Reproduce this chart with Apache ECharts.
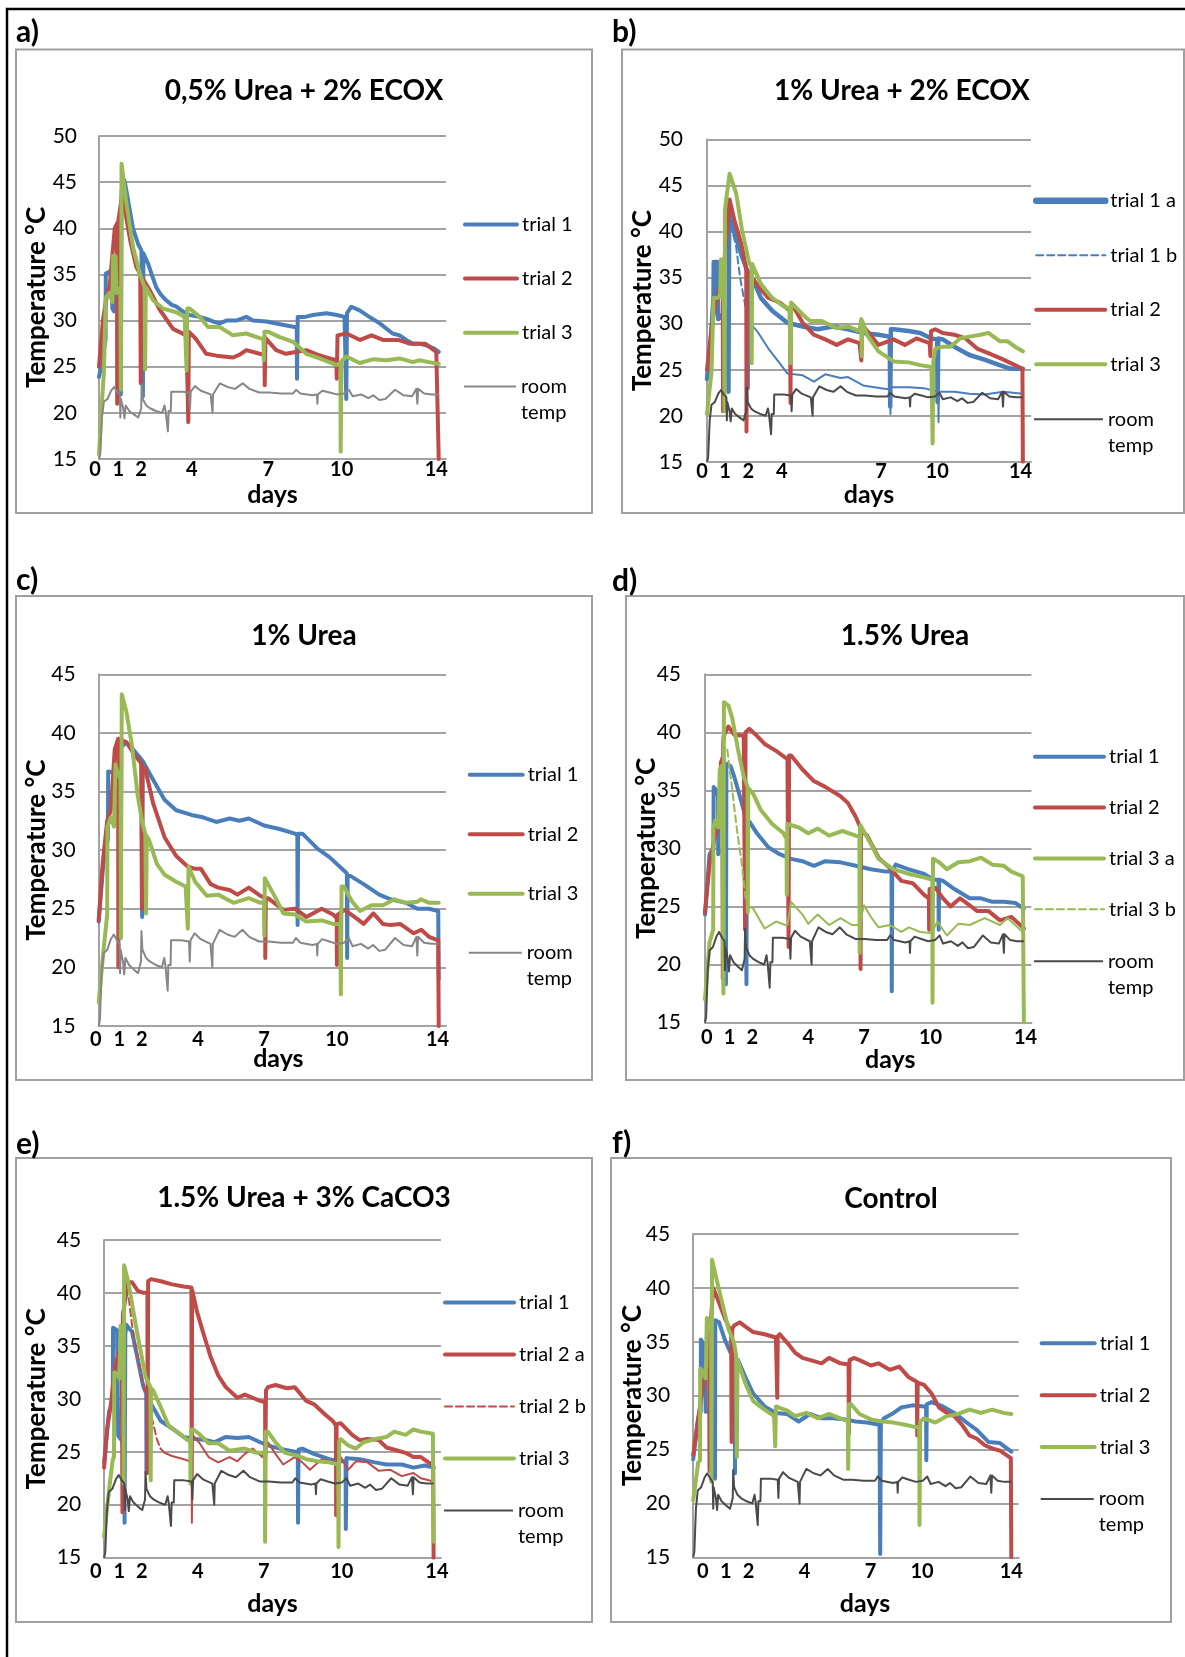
<!DOCTYPE html>
<html>
<head>
<meta charset="utf-8">
<title>Compost temperature trials</title>
<script src="https://cdn.jsdelivr.net/npm/echarts@6/dist/echarts.min.js"></script>
<style>
  html, body { margin: 0; padding: 0; background: #ffffff; }
  #chart { width: 1185px; height: 1657px; }
</style>
</head>
<body>
<div id="chart"></div>
<script>
// ---------------------------------------------------------------
// Temperature logs over 14 days: x = day on the logger axis, y = °C
// ---------------------------------------------------------------

// day-axis tick labels and where each label sits on its panel's axis
const tickLabels = ['0', '1', '2', '4', '7', '10', '14'];
const aTickDays = [0, 0.8, 1.73, 3.82, 6.98, 10.0, 13.9];
const bTickDays = [0, 0.8, 1.83, 3.32, 7.71, 10.2, 13.9];
const cTickDays = [0, 0.85, 1.77, 4.09, 6.81, 9.81, 13.95];
const dTickDays = [0.08, 1.08, 2.08, 4.53, 6.98, 9.9, 14.07];
const eTickDays = [0, 0.65, 1.6, 3.98, 6.79, 10.1, 14.14];
const fTickDays = [0.42, 1.44, 2.44, 4.9, 7.81, 10.07, 14.0];

// room temperature (same sensor for every batch)
const roomTemp = [[0,15],[0.05,15.5],[0.12,19.5],[0.2,21.2],[0.35,21.5],[0.5,22.4],[0.62,22.8],[0.75,22.3],[0.86,22],[0.88,19.5],[0.9,21.5],[1.0,20.5],[1.05,19.4],[1.1,20.8],[1.25,20.2],[1.45,19.8],[1.62,19.5],[1.7,19.4],[1.74,20.5],[1.76,23.1],[1.8,21.5],[1.95,20.8],[2.1,20.5],[2.35,20.2],[2.6,20.0],[2.7,20.8],[2.75,20.1],[2.84,18],[2.87,20.2],[2.96,20.2],[2.98,22.3],[3.4,22.3],[3.72,22.2],[3.75,20.5],[3.78,22.3],[3.95,22.9],[4.2,22.4],[4.6,22.0],[4.66,22],[4.68,20],[4.7,22],[4.98,23.2],[5.3,22.8],[5.6,22.6],[5.92,23.2],[6.2,22.6],[6.6,22.2],[7.0,22.2],[7.5,22.1],[8.0,22.1],[8.12,22.5],[8.3,22.1],[8.8,21.9],[8.98,22],[9.0,21],[9.02,22],[9.2,22.4],[9.5,22.2],[9.8,22],[10.1,22.1],[10.3,22.5],[10.45,21.8],[10.8,22],[11.1,21.6],[11.3,21.9],[11.55,21.4],[11.8,21.5],[12.2,22.5],[12.55,21.9],[12.9,21.8],[13.08,22.6],[13.12,21],[13.15,22.6],[13.4,22.1],[13.7,22],[14,22]];

// a) 0,5% Urea + 2% ECOX
const aTrial1 = [[0,23.9],[0.14,25.7],[0.27,28],[0.28,35.1],[0.44,35.3],[0.52,34.5],[0.55,31.3],[0.62,31],[0.7,33],[0.88,38],[0.9,22],[0.93,44],[1.05,45.2],[1.2,43],[1.4,40],[1.61,38.3],[1.75,37.6],[1.8,37.5],[1.81,21.8],[1.83,37.3],[2.02,36.2],[2.2,34.8],[2.36,33.6],[2.55,32.8],[2.77,32.2],[3.0,31.7],[3.19,31.5],[3.45,31],[3.74,30.6],[4.15,30.4],[4.4,30.2],[4.7,29.9],[4.97,29.7],[5.25,30.0],[5.66,30.0],[6.07,30.4],[6.35,30.0],[6.9,29.9],[7.45,29.6],[8.06,29.3],[8.15,29.3],[8.16,23.7],[8.19,30.4],[8.5,30.4],[8.82,30.6],[9.37,30.8],[9.8,30.6],[10.12,30.4],[10.17,30.4],[10.19,21.5],[10.22,30.8],[10.4,31.5],[10.74,31.1],[11.2,30.3],[11.57,29.7],[12.1,28.6],[12.39,28.4],[12.66,27.9],[12.94,27.5],[13.2,27.5],[13.5,27.3],[13.8,27.0],[14,26.6]];
const aTrial2 = [[0,25],[0.16,30],[0.3,32.3],[0.44,33.8],[0.55,37],[0.65,40],[0.74,40.5],[0.75,21],[0.78,40.5],[0.96,43.7],[1.1,41.5],[1.3,38.5],[1.54,35.8],[1.7,35],[1.72,23.2],[1.74,34.8],[2.09,33.3],[2.5,31.2],[3.05,29.1],[3.6,28.4],[3.67,28.2],[3.68,19],[3.7,28.8],[4.0,28],[4.42,26.4],[4.84,26.2],[5.52,26],[5.8,26.3],[6.07,26.8],[6.62,26.4],[6.82,26.3],[6.83,23],[6.86,28.1],[7.3,26.8],[7.7,26.4],[8.1,26.6],[8.54,26.8],[9.0,26.3],[9.37,26],[9.78,25.7],[9.8,23.7],[9.83,28.4],[10.2,28.6],[10.76,27.9],[11.23,28.4],[11.7,27.9],[12.33,27.9],[12.8,27.5],[13.44,27.5],[13.9,26.6],[13.98,26.6],[14,15]];
const aTrial3 = [[0,15.5],[0.1,20.3],[0.2,24.3],[0.26,24.5],[0.28,32.5],[0.44,33],[0.55,32],[0.58,37],[0.68,37],[0.72,33],[0.88,33.5],[0.9,22.5],[0.93,47],[1.13,42.7],[1.4,38],[1.68,35.1],[1.88,33.6],[1.9,24.7],[1.93,33.6],[2.23,32.2],[2.64,31.3],[3.19,30.9],[3.53,30.4],[3.6,30.4],[3.61,24.6],[3.64,31.3],[3.74,31.3],[4.15,30.4],[4.49,29.3],[4.97,29.3],[5.52,28.4],[6.07,28.6],[6.62,28.1],[6.78,28],[6.79,25.7],[6.82,28.8],[6.96,28.8],[7.45,28.2],[8.0,27.7],[8.54,26.4],[9.09,25.9],[9.78,25.2],[9.95,25.4],[9.96,15.8],[9.99,25.6],[10.19,26.1],[10.74,25.4],[11.29,25.8],[11.84,25.7],[12.39,25.9],[12.94,25.5],[13.2,25.7],[13.6,25.5],[14,25.3]];

// b) 1% Urea + 2% ECOX
const bTrial1a = [[0,24],[0.17,28],[0.29,33],[0.3,36.7],[0.45,36.7],[0.5,30.5],[0.7,31],[0.93,31.5],[0.95,22.6],[0.98,40],[1.04,42],[1.2,40],[1.55,37.3],[1.78,35.8],[1.8,23],[1.82,35.6],[2.05,34.7],[2.39,32.8],[2.89,31.4],[3.56,30.1],[4.24,29.7],[4.91,29.4],[5.58,29.7],[6.25,29.4],[6.92,29.0],[7.6,28.8],[8.1,28.6],[8.12,21],[8.15,29.4],[8.27,29.4],[8.94,29.2],[9.45,29.0],[9.95,28.4],[10.2,28.3],[10.22,21.5],[10.25,28.4],[10.45,28.3],[10.96,27.5],[11.63,26.6],[12.3,26.1],[12.97,25.5],[13.48,25.1],[14,25.1]];
const bTrial1bStart = [[1.05,40.8],[1.29,38.4],[1.46,35.1],[1.63,32.8],[1.85,30.2]];
const bTrial1b = [[1.85,30.2],[2.22,29.2],[2.72,27.3],[3.23,25.7],[3.56,24.6],[4.24,24.4],[4.74,23.7],[5.24,24.5],[5.92,24.1],[6.25,24.2],[6.92,23.3],[7.93,22.9],[8.12,22.9],[8.13,20.2],[8.15,23.1],[8.94,23.1],[9.61,23],[10.25,22.6],[10.26,19.3],[10.28,22.6],[10.96,22.6],[11.63,22.4],[12.3,22.3],[13.14,22.6],[14,22.4]];
const bTrial2 = [[0,25],[0.2,29.5],[0.37,32.1],[0.62,34.3],[0.7,34.8],[0.71,20.5],[0.74,36],[1.0,43.5],[1.21,41.3],[1.55,38.4],[1.74,35.8],[1.75,18.3],[1.77,35.8],[1.88,35.4],[2.3,34],[2.72,32.8],[3.23,32.3],[3.68,31.4],[3.7,21.4],[3.72,31.7],[3.82,31.9],[4.24,30.1],[4.74,28.8],[5.24,28.3],[5.75,27.7],[6.25,28.3],[6.76,27.9],[6.83,27.8],[6.84,26],[6.87,29.9],[6.92,29.9],[7.6,27.7],[8.27,28.3],[8.77,27.7],[9.28,28.4],[9.87,27.9],[9.9,26.5],[9.93,29.2],[10.12,29.4],[10.45,29.0],[10.96,28.8],[11.46,28.4],[11.97,27.3],[12.47,26.8],[13.14,26.1],[13.65,25.5],[13.98,25.1],[14,15]];
const bTrial3 = [[0,20.2],[0.2,24.8],[0.28,25],[0.29,32.8],[0.45,32.8],[0.58,33],[0.62,37],[0.7,37],[0.75,32],[0.78,20.5],[0.8,42.5],[1.0,46.3],[1.29,44.2],[1.55,40.2],[1.88,36.5],[1.97,36.3],[1.98,25.7],[2.0,36.5],[2.05,36.3],[2.39,34.3],[2.89,32.8],[3.39,31.9],[3.65,31.7],[3.7,31.6],[3.71,25.7],[3.73,32.3],[4.24,31.0],[4.57,30.3],[5.08,30.3],[5.75,29.5],[6.25,29.7],[6.76,29.2],[6.84,30.5],[6.86,26.5],[6.88,30.3],[7.09,28.8],[7.6,27.0],[8.27,25.9],[8.94,25.8],[9.45,25.5],[9.95,25.3],[9.99,25.3],[10.0,17],[10.03,26],[10.12,27.3],[10.45,27.5],[10.79,27.5],[11.21,28.4],[11.63,28.6],[12.13,28.8],[12.47,29.0],[12.97,28.1],[13.31,28.1],[13.65,27.5],[14,27.0]];

// c) 1% Urea
const cTrial1 = [[0,23.9],[0.19,28.8],[0.38,31],[0.39,36.7],[0.66,36.6],[0.88,37.5],[0.9,22.5],[0.93,38.8],[1.14,39.2],[1.37,38.7],[1.77,37.7],[1.79,24.3],[1.81,37.6],[1.89,37.6],[2.24,36],[2.71,34.3],[3.19,33.4],[3.82,33],[4.29,32.8],[4.84,32.4],[5.39,32.7],[5.79,32.5],[6.18,32.7],[6.81,32.1],[7.44,31.8],[8.08,31.4],[8.18,31.3],[8.19,23.6],[8.21,31.4],[8.39,31.4],[9.02,30.1],[9.5,29.4],[10.13,28.2],[10.22,28],[10.23,20.8],[10.25,27.8],[10.36,27.8],[10.91,27.1],[11.55,26.2],[12.02,25.8],[12.65,25.5],[13.12,25.0],[13.6,25.0],[13.98,24.8],[14,19]];
const cTrial2 = [[0,24],[0.16,28.8],[0.35,32.5],[0.5,33.4],[0.66,38.6],[0.8,39.5],[0.81,20],[0.83,39.5],[0.9,39.5],[1.14,39.2],[1.45,38.2],[1.75,37.4],[1.78,25],[1.8,37.2],[1.92,36.9],[2.24,34],[2.71,31.1],[3.19,29.5],[3.66,28.6],[3.97,28.4],[4.21,28.4],[4.61,27.1],[4.92,26.8],[5.39,26.6],[5.71,26.2],[6.18,26.8],[6.66,26.1],[6.85,25.9],[6.86,20.8],[6.88,25.9],[6.97,25.9],[7.6,24.9],[8.08,25.0],[8.55,24.3],[9.18,25.0],[9.65,24.5],[9.8,24.2],[9.81,20.2],[9.84,24.5],[10.13,24.9],[10.6,24.2],[10.91,23.7],[11.31,24.6],[11.7,23.7],[12.02,23.6],[12.41,23.7],[12.97,22.9],[13.28,23.2],[13.6,22.6],[13.98,22.3],[14,15]];
const cTrial3 = [[0,17],[0.19,21.3],[0.35,24.5],[0.36,32],[0.5,32.8],[0.63,32],[0.69,37.3],[0.74,36.9],[0.9,36],[0.91,22.5],[0.95,43.3],[1.14,41.8],[1.37,38.9],[1.61,34.6],[1.8,32.3],[1.92,31.4],[1.95,24.6],[1.98,31.2],[2.08,30.8],[2.4,28.8],[2.71,27.9],[3.19,27.3],[3.58,26.9],[3.66,26.8],[3.67,23.3],[3.7,28.6],[3.97,27.3],[4.45,26.1],[4.92,26.2],[5.55,25.5],[6.18,25.9],[6.66,25.5],[6.8,25.6],[6.82,22.7],[6.84,27.6],[6.97,27.1],[7.29,25.9],[7.6,24.6],[8.08,24.5],[8.55,23.9],[9.18,24],[9.65,23.7],[9.95,23.7],[9.97,17.7],[10.0,26.9],[10.09,26.9],[10.44,25.6],[10.76,24.8],[11.23,25.3],[11.7,25.3],[12.18,25.8],[12.65,25.5],[13.12,25.6],[13.28,25.8],[13.6,25.5],[14,25.5]];

// d) 1.5% Urea
const dTrial1 = [[0,24.3],[0.2,29.5],[0.37,30],[0.38,35.3],[0.5,35],[0.57,34.5],[0.58,29.5],[0.7,29.8],[0.9,30],[0.92,18.3],[0.94,37.3],[1.12,37.1],[1.28,36.2],[1.53,34.5],[1.78,32.7],[1.81,32.6],[1.82,18.3],[1.84,32.5],[1.95,32.3],[2.28,31.3],[2.78,30.1],[3.28,29.5],[3.78,29.1],[4.28,28.9],[4.78,28.5],[5.28,28.9],[5.95,28.8],[6.62,28.5],[7.28,28.2],[7.95,28.0],[8.19,28],[8.2,17.7],[8.22,28],[8.37,28.6],[8.95,28.2],[9.62,27.8],[10.03,27.3],[10.25,27.3],[10.26,23],[10.28,27.3],[10.45,27.2],[10.95,26.5],[11.62,25.7],[12.12,25.7],[12.62,25.4],[13.12,25.4],[13.62,25.3],[14,24.8]];
const dTrial2 = [[0,24.5],[0.2,28.6],[0.37,30.4],[0.58,32.1],[0.7,37.4],[0.77,37.8],[0.78,18.8],[0.8,39],[0.82,39.7],[1.03,40.5],[1.28,39.8],[1.7,39.7],[1.75,39.7],[1.76,23],[1.78,40],[1.95,40.3],[2.28,39.7],[2.62,39.0],[3.12,38.4],[3.62,37.7],[3.66,37.6],[3.67,21.5],[3.69,38],[3.78,38],[4.28,36.8],[4.78,35.8],[5.28,35.3],[5.95,34.5],[6.28,33.9],[6.62,32.7],[6.82,31.8],[6.83,19.6],[6.85,31.5],[7.12,31.1],[7.62,29.2],[8.12,28.3],[8.62,27.2],[9.12,27],[9.62,26.0],[9.83,25.7],[9.84,23],[9.86,26.5],[10.12,26.6],[10.45,25.7],[10.78,25.0],[11.2,25.7],[11.62,25.1],[11.95,24.6],[12.45,24.6],[12.95,23.8],[13.45,24.1],[13.95,23.2],[14,23.1]];
const dTrial3a = [[0,17],[0.2,21.9],[0.36,23],[0.37,31.8],[0.45,32.4],[0.58,31.8],[0.65,36.8],[0.73,37.1],[0.8,37],[0.81,17.5],[0.83,42.6],[1.03,42.3],[1.2,41.2],[1.45,38.5],[1.7,36.2],[1.87,35.3],[1.88,24.5],[1.9,35.2],[2.12,34.7],[2.45,33.3],[2.95,32.1],[3.45,31.3],[3.58,30.8],[3.59,26],[3.62,32.1],[3.7,32.1],[4.12,31.8],[4.53,31.3],[4.95,31.7],[5.45,31.1],[6.03,31.5],[6.62,31.1],[6.78,31],[6.79,21],[6.82,32],[6.87,32],[7.28,30.4],[7.62,29.1],[8.28,28.2],[8.95,27.8],[9.62,27.5],[9.98,27.3],[9.99,16.7],[10.01,29.1],[10.08,29.1],[10.28,28.8],[10.62,28.2],[11.12,28.8],[11.62,28.9],[12.12,29.2],[12.62,28.6],[13.12,28.5],[13.45,28.0],[13.95,27.6],[14,15]];
const dTrial3bStart = [[0.98,38.5],[1.2,35],[1.37,32.1],[1.62,28.6],[1.78,25.7],[1.87,25.1]];
const dTrial3b = [[1.87,25.1],[2.12,24.8],[2.62,23.1],[3.12,23.7],[3.53,23.4],[3.62,23.4],[3.78,25.4],[4.28,24.3],[4.53,23.5],[4.95,24.3],[5.45,23.4],[5.95,24.0],[6.45,23.4],[6.78,23.4],[6.98,25.1],[7.28,24.1],[7.62,23.2],[8.12,23.4],[8.62,22.8],[8.95,23.2],[9.45,22.8],[9.95,22.7],[10.2,23.7],[10.62,22.5],[11.12,23.5],[11.62,23.4],[12.28,24.0],[12.95,23.4],[13.28,24.0],[13.95,22.8]];

// e) 1.5% Urea + 3% CaCO3
const eTrial1 = [[0,24],[0.21,28.8],[0.37,29.5],[0.38,36.7],[0.46,36.6],[0.55,36.5],[0.6,26.5],[0.7,26.2],[0.86,26.5],[0.87,18.3],[0.9,36],[0.94,37],[1.19,36.3],[1.43,33.7],[1.67,31.1],[1.79,30.5],[1.8,23],[1.82,30.2],[1.84,30.1],[2.08,29.2],[2.41,27.9],[2.89,27.2],[3.38,26.4],[3.87,26.2],[4.36,26.1],[4.68,25.9],[5.17,26.4],[5.66,26.3],[6.15,26.4],[6.63,25.9],[6.96,25.6],[7.45,25.3],[8.1,25.0],[8.23,25],[8.24,18.3],[8.26,25.2],[8.42,25.3],[8.91,24.8],[9.56,24.3],[10.05,24.1],[10.26,24.1],[10.27,17.7],[10.3,24.4],[10.37,24.5],[10.86,24.3],[11.51,24.0],[12.0,23.8],[12.65,23.8],[13.14,23.5],[13.63,23.7],[14,23.5]];
const eTrial2a = [[0,23.5],[0.13,27.2],[0.29,29.5],[0.46,33.0],[0.62,34.3],[0.75,35],[0.78,19.3],[0.8,38],[1.02,41],[1.19,41.0],[1.43,40.2],[1.67,40],[1.84,40],[1.85,23],[1.87,41.1],[2.0,41.3],[2.41,41.1],[2.89,40.8],[3.38,40.6],[3.71,40.5],[3.72,22],[3.74,40.3],[3.79,40.2],[3.95,38.2],[4.2,36.3],[4.52,34.0],[4.85,32.2],[5.17,31.1],[5.66,30.1],[5.98,30.4],[6.31,30.1],[6.63,29.8],[6.84,29.7],[6.85,24.5],[6.88,30.8],[6.96,31.1],[7.28,31.3],[7.77,31.0],[8.1,31.1],[8.59,29.8],[8.91,29.5],[9.4,28.5],[9.72,27.9],[9.85,27.5],[9.86,19],[9.88,27.6],[10.05,27.7],[10.54,26.6],[10.86,26.1],[11.19,26.2],[11.67,26.1],[12.0,25.4],[12.49,25.1],[12.81,24.9],[13.14,24.5],[13.46,24.5],[13.98,23.7],[14,15]];
const eTrial2bStart = [[1.05,39.5],[1.19,36.9],[1.59,32.1],[2.0,28.5],[2.24,26.2],[2.4,25.3]];
const eTrial2b = [[2.4,25.3],[2.57,24.9],[2.89,24.6],[3.38,24.3],[3.63,24.1],[3.72,24.1],[3.73,18.3],[3.76,26.6],[3.79,26.6],[4.03,25.9],[4.44,24.5],[4.85,24.0],[5.33,24.5],[5.66,24.1],[5.98,24.8],[6.31,25.3],[6.72,24.5],[6.96,25.9],[7.28,24.8],[7.61,23.8],[8.1,24.5],[8.42,24.0],[8.75,23.3],[9.24,24.3],[9.56,24.1],[9.8,24.0],[10.05,24.5],[10.37,23.3],[10.7,24.1],[11.19,24.0],[11.67,23.2],[12.16,23.3],[12.65,22.7],[13.14,23.0],[13.46,22.5],[14,22.2]];
const eTrial3 = [[0,17],[0.21,21.4],[0.37,24.3],[0.42,24.5],[0.43,32.5],[0.54,32.4],[0.65,31.9],[0.7,36.9],[0.78,36.6],[0.82,36],[0.83,22],[0.85,42.6],[1.02,41.1],[1.27,37.9],[1.51,35],[1.76,32.1],[1.97,31.1],[1.98,22.3],[2.0,31],[2.08,30.8],[2.41,29.2],[2.73,27.5],[3.22,26.7],[3.54,26.1],[3.66,26.1],[3.67,22],[3.7,27.1],[3.79,27.1],[4.03,26.7],[4.44,25.8],[4.85,25.8],[5.33,25.1],[5.98,25.3],[6.47,24.9],[6.83,24.9],[6.84,16.5],[6.87,26.9],[6.96,26.9],[7.28,25.9],[7.69,24.9],[8.26,24.6],[8.59,24.3],[9.07,24.1],[9.56,24.0],[9.95,23.8],[9.96,16],[9.99,26],[10.05,26.2],[10.37,25.6],[10.7,25.3],[11.02,25.9],[11.51,26.2],[12.0,26.4],[12.33,26.9],[12.81,26.6],[13.14,27.1],[13.46,26.9],[13.97,26.7],[14,16.5]];

// f) Control
const fTrial1 = [[0,24.1],[0.22,27.9],[0.33,28.5],[0.34,35.2],[0.43,34.9],[0.5,34.5],[0.55,28.5],[0.72,28.6],[0.95,29],[0.96,22.3],[0.97,37],[1.14,36.8],[1.39,35.2],[1.64,34.0],[1.83,33.6],[1.84,22.8],[1.86,33.5],[1.97,33.3],[2.3,31.7],[2.64,30.2],[3.14,29.0],[3.64,28.4],[4.14,28.3],[4.64,27.6],[5.14,28.3],[5.65,27.9],[6.15,27.9],[6.65,27.8],[7.15,27.6],[7.65,27.5],[8.2,27.3],[8.23,15.3],[8.26,27.5],[8.4,27.9],[8.82,28.4],[9.15,28.9],[9.65,29.1],[10.16,29.0],[10.25,29],[10.26,24],[10.28,29.2],[10.49,29.4],[10.99,29.0],[11.49,28.4],[12.16,27.3],[12.49,26.8],[12.99,25.7],[13.5,25.6],[14,24.8]];
const fTrial2 = [[0,24.5],[0.22,27.9],[0.47,31.4],[0.63,32.1],[0.7,32.5],[0.72,23],[0.75,36],[0.88,40],[1.05,39.1],[1.39,37.2],[1.67,35.9],[1.69,25.7],[1.72,36.2],[1.8,36.5],[2.05,36.8],[2.3,36.4],[2.64,35.9],[3.14,35.7],[3.64,35.4],[3.69,35.3],[3.7,29.8],[3.72,35.5],[3.81,35.7],[4.14,34.9],[4.48,34.0],[4.81,33.5],[5.31,33.2],[5.65,33.0],[5.98,33.5],[6.48,33.0],[6.84,32.9],[6.85,26.5],[6.88,33.3],[7.07,33.5],[7.32,33.3],[7.82,32.8],[8.15,33.0],[8.65,32.4],[9.07,32.7],[9.49,31.7],[9.84,31.3],[9.86,26.3],[9.88,31.2],[10.16,31.0],[10.49,30.2],[10.82,28.9],[11.16,28.4],[11.49,28.1],[11.83,27.3],[12.16,26.3],[12.49,26.0],[12.83,25.4],[13.16,25.1],[13.5,24.9],[13.98,24.2],[14,15]];
const fTrial3 = [[0,20.3],[0.22,23.8],[0.3,24],[0.31,32.5],[0.47,32.2],[0.55,31.6],[0.6,37.2],[0.67,37],[0.79,36],[0.8,22],[0.83,42.6],[1.05,40.6],[1.3,38.4],[1.55,36.2],[1.8,34.9],[1.89,33.7],[1.92,24.3],[1.95,33.3],[2.05,32.7],[2.3,31.1],[2.64,29.5],[3.14,28.7],[3.56,28.1],[3.6,28.1],[3.61,25.3],[3.64,29],[3.72,29.0],[4.14,28.6],[4.48,28.1],[4.98,28.4],[5.48,27.9],[5.98,28.3],[6.48,27.9],[6.81,27.6],[6.82,23.2],[6.85,29.2],[6.95,29.2],[7.32,28.3],[7.82,27.8],[8.32,27.6],[8.82,27.5],[9.32,27.3],[9.74,27.1],[9.95,27.1],[9.96,18],[9.99,27.6],[10.16,27.9],[10.66,27.5],[11.16,28.1],[11.66,28.3],[12.16,28.7],[12.66,28.4],[13.16,28.7],[13.66,28.4],[14,28.3]];

// ---------------------------------------------------------------
// styling and layout
// ---------------------------------------------------------------
const FONT = 'Lato, "Open Sans", sans-serif';
const BLUE = '#4a7ebb', RED = '#be4b48', GREEN = '#98b954';
const ROOM_LIGHT = '#878787', ROOM_DARK = '#4a4a4a';
const GRID_GRAY = '#a3a3a3';
const DASH = [7, 4];

const panels = [
  { key: 'a', label: 'a)', labelPos: [16, 32], title: '0,5% Urea + 2% ECOX', titlePos: [304, 91],
    box: [16, 49.5, 576, 463.5], grid: [99, 136, 347, 323], xMax: 14.3, yMax: 50, ticks: aTickDays,
    zeroShift: 4, yLabelMargin: 22, xLabelMargin: 1, xNameGap: 23, xNameShift: 0, yNameGap: 49,
    legend: { left: 463, first: 224.5, step: 54.1, room: 386.4, width: 52 }, roomColor: ROOM_LIGHT,
    lines: [
      { name: 'trial 1', data: aTrial1, color: BLUE, width: 4 },
      { name: 'trial 2', data: aTrial2, color: RED, width: 4 },
      { name: 'trial 3', data: aTrial3, color: GREEN, width: 4 }
    ] },
  { key: 'b', label: 'b)', labelPos: [612, 32], title: '1% Urea + 2% ECOX', titlePos: [902, 91],
    box: [622, 49.5, 562, 463.5], grid: [707, 139.6, 324, 322.2], xMax: 14.36, yMax: 50, ticks: bTickDays,
    zeroShift: 5, yLabelMargin: 24, xLabelMargin: 0, xNameGap: 21, xNameShift: 0, yNameGap: 51,
    legend: { left: 1033, first: 200.8, step: 54.5, room: 419.2, width: 69 }, roomColor: ROOM_DARK,
    lines: [
      { name: 'trial 1 a', data: bTrial1a, color: BLUE, width: 4.5, legendWidth: 6.5 },
      { name: 'trial 1 b', data: bTrial1bStart, color: BLUE, width: 2, dash: true },
      { name: 'trial 1 b', data: bTrial1b, color: BLUE, width: 2 },
      { name: 'trial 2', data: bTrial2, color: RED, width: 4 },
      { name: 'trial 3', data: bTrial3, color: GREEN, width: 4 }
    ] },
  { key: 'c', label: 'c)', labelPos: [16, 580], title: '1% Urea', titlePos: [304, 636],
    box: [16, 596, 576, 484], grid: [98.7, 674.3, 347.3, 351.6], xMax: 14.3, yMax: 45, ticks: cTickDays,
    zeroShift: 3, yLabelMargin: 23, xLabelMargin: 4, xNameGap: 21, xNameShift: 12, yNameGap: 49,
    legend: { left: 467.7, first: 774.7, step: 59.5, room: 952.8, width: 53 }, roomColor: ROOM_LIGHT,
    lines: [
      { name: 'trial 1', data: cTrial1, color: BLUE, width: 4 },
      { name: 'trial 2', data: cTrial2, color: RED, width: 4 },
      { name: 'trial 3', data: cTrial3, color: GREEN, width: 4 }
    ] },
  { key: 'd', label: 'd)', labelPos: [612, 581], title: '1.5% Urea', titlePos: [905, 636],
    box: [626, 596, 558, 484], grid: [705, 674.3, 326.4, 348.2], xMax: 14.33, yMax: 45, ticks: dTickDays,
    zeroShift: 0, yLabelMargin: 24, xLabelMargin: 5, xNameGap: 25, xNameShift: 44, yNameGap: 45,
    legend: { left: 1033, first: 756.8, step: 50.8, room: 961.3, width: 69 }, roomColor: ROOM_DARK,
    lines: [
      { name: 'trial 1', data: dTrial1, color: BLUE, width: 4 },
      { name: 'trial 2', data: dTrial2, color: RED, width: 4 },
      { name: 'trial 3 a', data: dTrial3a, color: GREEN, width: 4 },
      { name: 'trial 3 b', data: dTrial3bStart, color: GREEN, width: 2, dash: true },
      { name: 'trial 3 b', data: dTrial3b, color: GREEN, width: 2 }
    ] },
  { key: 'e', label: 'e)', labelPos: [16, 1144], title: '1.5% Urea + 3% CaCO3', titlePos: [304, 1198],
    box: [16, 1158, 576, 464], grid: [104.1, 1239.9, 336.8, 317.8], xMax: 14.31, yMax: 45, ticks: eTickDays,
    zeroShift: 8.4, yLabelMargin: 23, xLabelMargin: 4, xNameGap: 34, xNameShift: 0, yNameGap: 54,
    legend: { left: 443, first: 1302.5, step: 52, room: 1510.4, width: 69 }, roomColor: ROOM_DARK,
    lines: [
      { name: 'trial 1', data: eTrial1, color: BLUE, width: 4 },
      { name: 'trial 2 a', data: eTrial2a, color: RED, width: 4 },
      { name: 'trial 2 b', data: eTrial2bStart, color: RED, width: 2, dash: true },
      { name: 'trial 2 b', data: eTrial2b, color: RED, width: 2 },
      { name: 'trial 3', data: eTrial3, color: GREEN, width: 4 }
    ] },
  { key: 'f', label: 'f)', labelPos: [612, 1143], title: 'Control', titlePos: [891, 1199],
    box: [611, 1158, 560, 464], grid: [693.2, 1234, 325.6, 323.3], xMax: 14.33, yMax: 45, ticks: fTickDays,
    zeroShift: 0, yLabelMargin: 23, xLabelMargin: 4, xNameGap: 34, xNameShift: 18, yNameGap: 48,
    legend: { left: 1039.7, first: 1343.3, step: 51.9, room: 1499, width: 53 }, roomColor: ROOM_DARK,
    lines: [
      { name: 'trial 1', data: fTrial1, color: BLUE, width: 4 },
      { name: 'trial 2', data: fTrial2, color: RED, width: 4 },
      { name: 'trial 3', data: fTrial3, color: GREEN, width: 4 }
    ] }
];

// ---------------------------------------------------------------
// option assembly
// ---------------------------------------------------------------
const option = {
  animation: false,
  backgroundColor: '#ffffff',
  textStyle: { fontFamily: FONT },
  grid: [], xAxis: [], yAxis: [], series: [], legend: [],
  graphic: [
    // outer frame of the figure
    { type: 'rect', silent: true, z: 0,
      shape: { x: 7, y: 9, width: 1200, height: 1700 },
      style: { fill: null, stroke: '#000000', lineWidth: 2.5 } }
  ]
};

const shortName = n => n.slice(n.indexOf(':') + 1);
const TICK_FONT = { color: '#000', fontWeight: 'bold', fontSize: 20, fontFamily: FONT };

panels.forEach((p, i) => {
  const [gl, gt, gw, gh] = p.grid;
  option.grid.push({ left: gl, top: gt, width: gw, height: gh, containLabel: false, outerBoundsMode: 'none' });

  option.xAxis.push({
    gridIndex: i, type: 'value', min: 0, max: p.xMax,
    axisLine: { show: true, onZero: false, lineStyle: { color: GRID_GRAY, width: 2 } },
    axisTick: { show: false },
    splitLine: { show: false },
    axisLabel: Object.assign({
      customValues: p.ticks,
      formatter: v => {
        let best = 0;
        p.ticks.forEach((t, k) => { if (Math.abs(t - v) < Math.abs(p.ticks[best] - v)) best = k; });
        // the "0" label sits just left of the vertical axis
        if (best === 0 && p.zeroShift) return '{z|' + tickLabels[0] + '}';
        return tickLabels[best];
      },
      margin: p.xLabelMargin,
      rich: { z: Object.assign({ padding: [0, 2 * p.zeroShift, 0, 0] }, TICK_FONT) }
    }, TICK_FONT),
    name: 'days', nameLocation: 'middle', nameGap: p.xNameGap, nameMoveOverlap: false,
    nameTextStyle: { color: '#000', fontWeight: 'bold', fontSize: 25, fontFamily: FONT,
      padding: [0, 0, 0, p.xNameShift] }
  });

  option.yAxis.push({
    gridIndex: i, type: 'value', min: 15, max: p.yMax, interval: 5,
    axisLine: { show: true, onZero: false, lineStyle: { color: GRID_GRAY, width: 2 } },
    axisTick: { show: false },
    splitLine: { show: true, lineStyle: { color: GRID_GRAY, width: 2 } },
    axisLabel: { color: '#000', fontSize: 21, fontFamily: FONT, margin: p.yLabelMargin },
    name: 'Temperature °C', nameLocation: 'middle', nameRotate: 90, nameGap: p.yNameGap, nameMoveOverlap: false,
    nameTextStyle: { color: '#000', fontWeight: 'bold', fontSize: 26, fontFamily: FONT }
  });

  const legendItems = [];
  p.lines.forEach(s => {
    const full = p.key + ':' + s.name;
    option.series.push({
      type: 'line', name: full, xAxisIndex: i, yAxisIndex: i, data: s.data,
      symbol: 'none', showSymbol: false, silent: true, clip: true,
      lineStyle: { color: s.color, width: s.width, type: s.dash ? DASH : 'solid', cap: 'round', join: 'round' },
      itemStyle: { color: s.color },
      emphasis: { disabled: true }
    });
    if (!legendItems.some(it => it.name === full)) {
      legendItems.push({
        name: full,
        lineStyle: { color: s.color, width: s.legendWidth || s.width, type: s.dash ? DASH : 'solid', cap: 'round' }
      });
    }
  });

  const roomName = p.key + ':room temp';
  option.series.push({
    type: 'line', name: roomName, xAxisIndex: i, yAxisIndex: i, data: roomTemp,
    symbol: 'none', showSymbol: false, silent: true,
    lineStyle: { color: p.roomColor, width: 2, join: 'round' },
    itemStyle: { color: p.roomColor },
    emphasis: { disabled: true }
  });

  // trials legend
  option.legend.push({
    orient: 'vertical', left: p.legend.left, top: p.legend.first - 10, padding: 0,
    itemWidth: p.legend.width, itemHeight: 20, itemGap: p.legend.step - 20,
    selectedMode: false, data: legendItems, formatter: shortName,
    itemStyle: { opacity: 0 },
    textStyle: { color: '#000', fontSize: 20, lineHeight: 20, fontFamily: FONT }
  });
  // room temperature legend: a blank first line keeps "room" level with the legend line
  option.legend.push({
    orient: 'vertical', left: p.legend.left, top: p.legend.room - 39, padding: 0,
    itemWidth: p.legend.width, itemHeight: 20, selectedMode: false,
    data: [{ name: roomName, lineStyle: { color: p.roomColor, width: 2, type: 'solid' } }],
    formatter: () => '\nroom\ntemp',
    itemStyle: { opacity: 0 },
    textStyle: { color: '#000', fontSize: 20, lineHeight: 26, fontFamily: FONT }
  });

  // panel frame, panel letter and title
  option.graphic.push(
    { type: 'rect', silent: true, z: 0,
      shape: { x: p.box[0], y: p.box[1], width: p.box[2], height: p.box[3] },
      style: { fill: null, stroke: '#a0a0a0', lineWidth: 2 } },
    { type: 'text', silent: true, x: p.labelPos[0], y: p.labelPos[1],
      style: { text: p.label, font: 'bold 30px ' + FONT, fill: '#000',
        align: 'left', verticalAlign: 'middle', textAlign: 'left', textVerticalAlign: 'middle' } },
    { type: 'text', silent: true, x: p.titlePos[0], y: p.titlePos[1],
      style: { text: p.title, font: 'bold 28px ' + FONT, fill: '#000',
        align: 'center', verticalAlign: 'middle', textAlign: 'center', textVerticalAlign: 'middle' } }
  );
});

const chart = echarts.init(document.getElementById('chart'), null, { renderer: 'canvas' });
chart.setOption(option);
</script>
</body>
</html>
